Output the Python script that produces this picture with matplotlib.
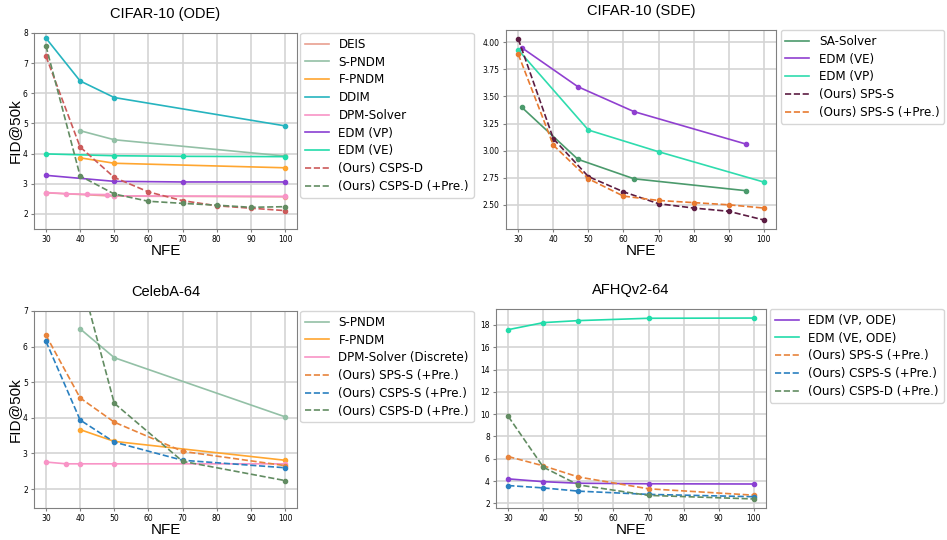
import matplotlib
matplotlib.use("Agg")
import matplotlib.pyplot as plt

# ---- CIFAR-10 (ODE)
ode_deis_x = [30, 50, 100]
ode_deis_y = [2.70, 2.59, 2.57]
ode_spndm_x = [40, 50, 100]
ode_spndm_y = [4.76, 4.46, 3.92]
ode_fpndm_x = [40, 50, 100]
ode_fpndm_y = [3.86, 3.68, 3.53]
ode_ddim_x = [30, 40, 50, 100]
ode_ddim_y = [7.83, 6.41, 5.86, 4.92]
ode_dpm_x = [30, 36, 42, 48, 50, 100]
ode_dpm_y = [2.71, 2.67, 2.65, 2.64, 2.60, 2.58]
ode_edmvp_x = [30, 50, 70, 100]
ode_edmvp_y = [3.28, 3.08, 3.06, 3.06]
ode_edmve_x = [30, 50, 70, 100]
ode_edmve_y = [3.99, 3.93, 3.91, 3.90]
nfe = [30, 40, 50, 60, 70, 80, 90, 100]
ode_cspsd_y = [7.23, 4.22, 3.21, 2.73, 2.44, 2.27, 2.19, 2.11]
ode_cspsd_pre_y = [7.57, 3.26, 2.66, 2.42, 2.35, 2.29, 2.22, 2.24]

# ---- CIFAR-10 (SDE)
sde_sa_x = [31, 47, 63, 95]
sde_sa_y = [3.40, 2.92, 2.74, 2.63]
sde_edmve_x = [31, 47, 63, 95]
sde_edmve_y = [3.95, 3.59, 3.36, 3.06]
sde_edmvp_x = [30, 50, 70, 100]
sde_edmvp_y = [3.93, 3.19, 2.99, 2.71]
sde_sps_y = [4.03, 3.11, 2.76, 2.62, 2.51, 2.47, 2.44, 2.36]
sde_sps_pre_y = [3.89, 3.05, 2.74, 2.58, 2.54, 2.52, 2.50, 2.47]

# ---- CelebA-64
cel_spndm_x = [40, 50, 100]
cel_spndm_y = [6.50, 5.69, 4.03]
cel_fpndm_x = [40, 50, 100]
cel_fpndm_y = [3.67, 3.34, 2.81]
cel_dpm_x = [30, 36, 40, 50, 100]
cel_dpm_y = [2.76, 2.71, 2.71, 2.71, 2.71]
cel_x = [30, 40, 50, 70, 100]
cel_sps_pre_y = [6.32, 4.56, 3.88, 3.06, 2.66]
cel_cspss_pre_y = [6.15, 3.94, 3.32, 2.81, 2.60]
cel_cspsd_x = [40, 50, 70, 100]
cel_cspsd_pre_y = [8.00, 4.41, 2.78, 2.24]

# ---- AFHQv2-64
afhq_x = [30, 40, 50, 70, 100]
afhq_edmvp_y = [4.20, 3.95, 3.81, 3.76, 3.74]
afhq_edmve_y = [17.58, 18.21, 18.39, 18.60, 18.62]
afhq_sps_pre_y = [6.20, 5.37, 4.37, 3.31, 2.74]
afhq_cspss_pre_y = [3.60, 3.39, 3.10, 2.81, 2.60]
afhq_cspsd_pre_y = [9.80, 5.25, 3.66, 2.72, 2.40]

fig = plt.figure(figsize=(9.47, 5.40), dpi=100)
W, H = 947, 540
LBL = dict(fontsize=11, family="Liberation Sans")


def make_ax(l, r, t, b, title):
    ax = fig.add_axes([l / W, 1 - b / H, (r - l) / W, (b - t) / H])
    ax.grid(True, color="#d4d4d4", linewidth=1.2)
    ax.set_axisbelow(True)
    for s in ax.spines.values():
        s.set_color("#808080")
    ax.tick_params(labelsize=5.5, length=2.5, color="#808080", pad=2)
    ax.set_xticks([30, 40, 50, 60, 70, 80, 90, 100])
    ax.set_title(title, fontsize=10.5, family="Liberation Sans", pad=11)
    ax.set_xlabel("NFE", labelpad=0, **LBL)
    return ax


def line(ax, x, y, c, label, ls="-"):
    ax.plot(x, y, ls, color=c, label=label, lw=1.2)
    ax.plot(x, y, "o", color=c, markersize=3)


def legend(ax, dx):
    ax.legend(loc="upper left", bbox_to_anchor=(1 + dx, 1.0), borderaxespad=0,
              fontsize=8.6, labelspacing=0.4, handlelength=2.0)


# top left
ax1 = make_ax(34, 297, 33, 229, "CIFAR-10 (ODE)")
line(ax1, ode_deis_x, ode_deis_y, "#e9a090", "DEIS")
line(ax1, ode_spndm_x, ode_spndm_y, "#93c0a6", "S-PNDM")
line(ax1, ode_fpndm_x, ode_fpndm_y, "#ffa630", "F-PNDM")
line(ax1, ode_ddim_x, ode_ddim_y, "#26b4bf", "DDIM")
line(ax1, ode_dpm_x, ode_dpm_y, "#f894c6", "DPM-Solver")
line(ax1, ode_edmvp_x, ode_edmvp_y, "#8a40d2", "EDM (VP)")
line(ax1, ode_edmve_x, ode_edmve_y, "#22dcaa", "EDM (VE)")
line(ax1, nfe, ode_cspsd_y, "#cc5a5a", "(Ours) CSPS-D", "--")
line(ax1, nfe, ode_cspsd_pre_y, "#628c62", "(Ours) CSPS-D (+Pre.)", "--")
ax1.set_ylim(1.5, 8.0)
ax1.set_ylabel("FID@50k", labelpad=1, **LBL)
legend(ax1, 0.012)

# top right
ax2 = make_ax(506, 776, 30, 229, "CIFAR-10 (SDE)")
line(ax2, sde_sa_x, sde_sa_y, "#4b9a6c", "SA-Solver")
line(ax2, sde_edmve_x, sde_edmve_y, "#9040d0", "EDM (VE)")
line(ax2, sde_edmvp_x, sde_edmvp_y, "#2fdcae", "EDM (VP)")
line(ax2, nfe, sde_sps_y, "#5c1c42", "(Ours) SPS-S", "--")
line(ax2, nfe, sde_sps_pre_y, "#e87a30", "(Ours) SPS-S (+Pre.)", "--")
legend(ax2, 0.017)

# bottom left
ax3 = make_ax(34, 297, 311, 508, "CelebA-64")
line(ax3, cel_spndm_x, cel_spndm_y, "#93c0a6", "S-PNDM")
line(ax3, cel_fpndm_x, cel_fpndm_y, "#ffa630", "F-PNDM")
line(ax3, cel_dpm_x, cel_dpm_y, "#f894c6", "DPM-Solver (Discrete)")
line(ax3, cel_x, cel_sps_pre_y, "#e8843c", "(Ours) SPS-S (+Pre.)", "--")
line(ax3, cel_x, cel_cspss_pre_y, "#2a80c0", "(Ours) CSPS-S (+Pre.)", "--")
line(ax3, cel_cspsd_x, cel_cspsd_pre_y, "#628c62", "(Ours) CSPS-D (+Pre.)", "--")
ax3.set_ylim(1.47, 7.0)
ax3.set_ylabel("FID@50k", labelpad=1, **LBL)
legend(ax3, 0.012)

# bottom right
ax4 = make_ax(496, 766, 309, 508, "AFHQv2-64")
line(ax4, afhq_x, afhq_edmvp_y, "#8a40d2", "EDM (VP, ODE)")
line(ax4, afhq_x, afhq_edmve_y, "#22dcaa", "EDM (VE, ODE)")
line(ax4, afhq_x, afhq_sps_pre_y, "#e8843c", "(Ours) SPS-S (+Pre.)", "--")
line(ax4, afhq_x, afhq_cspss_pre_y, "#2a80c0", "(Ours) CSPS-S (+Pre.)", "--")
line(ax4, afhq_x, afhq_cspsd_pre_y, "#628c62", "(Ours) CSPS-D (+Pre.)", "--")
legend(ax4, 0.015)

fig.savefig("out.png", dpi=100)
